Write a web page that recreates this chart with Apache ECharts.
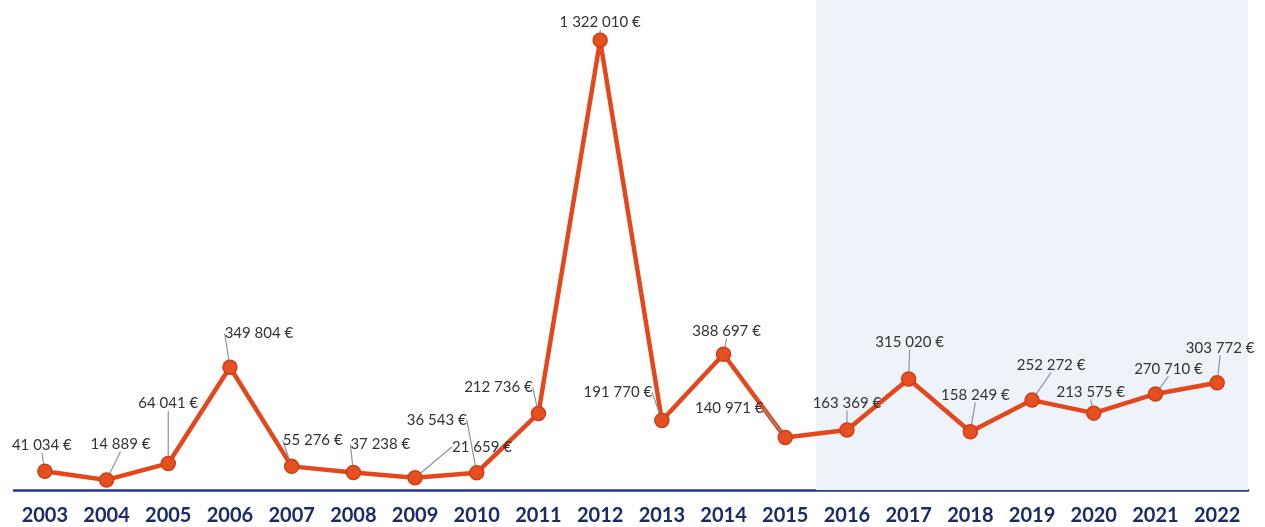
<!DOCTYPE html>
<html>
<head>
<meta charset="utf-8">
<script src="https://cdn.jsdelivr.net/npm/echarts@6/dist/echarts.min.js"></script>
<style>
  html, body { margin: 0; padding: 0; background: #fff; }
  #chart { width: 1265px; height: 527px; }
</style>
</head>
<body>
<div id="chart"></div>
<script>
// years on the x axis
var years = ['2003', '2004', '2005', '2006', '2007', '2008', '2009', '2010', '2011', '2012',
  '2013', '2014', '2015', '2016', '2017', '2018', '2019', '2020', '2021', '2022'];
// amounts in euros
var amounts = [41034, 14889, 64041, 349804, 55276, 37238, 21659, 36543, 212736, 1322010,
  191770, 388697, 140971, 163369, 315020, 158249, 252272, 213575, 270710, 303772];
// shaded period: from 2016 to the end
var shadeFrom = 13, shadeTo = 20;

// label offsets (px) from each point, purely layout
var labelDx = [-3, 14, 0, 29, 21, 27, 67, -40, -40, 0, -44, 3, -56, 0, 1, 5, 19, -3, 13, 3];
var labelDy = [-26, -36, -60, -34, -26, -28, -31, -53, -26, -18, -28, -23, -29, -27, -37, -37, -35, -21, -25, -35];

function fmt(v) {
  return String(v).replace(/\B(?=(\d{3})+(?!\d))/g, ' ') + ' €';
}

var myChart = echarts.init(document.getElementById('chart'));
myChart.setOption({
  backgroundColor: '#fff',
  animation: false,
  grid: { left: 14, right: 17, top: 0, bottom: 37, containLabel: false },
  xAxis: [{
    type: 'category',
    data: years,
    boundaryGap: true,
    axisTick: { show: false },
    axisLine: { onZero: false, lineStyle: { color: '#24388f', width: 2.5 } },
    axisLabel: {
      color: '#1c2a6b', fontFamily: 'Lato', fontWeight: 'bold', fontSize: 20, margin: 16
    }
  }, {
    type: 'value', min: 0, max: years.length, show: false
  }],
  yAxis: {
    type: 'value', min: -15000, max: 1442000,
    show: false, splitLine: { show: false }
  },
  series: [{
    type: 'line',
    xAxisIndex: 1,
    data: [],
    silent: true,
    markArea: {
      silent: true,
      itemStyle: { color: '#eef3fa' },
      data: [[{ xAxis: shadeFrom }, { xAxis: shadeTo }]]
    }
  }, {
    type: 'line',
    data: amounts,
    symbol: 'circle',
    symbolSize: 14,
    z: 5,
    lineStyle: { color: '#e4471c', width: 4.5 },
    itemStyle: { color: '#e4501f', borderColor: '#d03e18', borderWidth: 1.5 },
    label: {
      show: true,
      position: 'inside',
      formatter: function (p) { return fmt(p.value); },
      color: '#333',
      fontFamily: 'Lato',
      fontSize: 15
    },
    labelLine: {
      show: true,
      lineStyle: { color: '#8796a4', width: 1.2 }
    },
    labelLayout: function (p) {
      return { dx: labelDx[p.dataIndex], dy: labelDy[p.dataIndex] };
    }
  }]
});
</script>
</body>
</html>
